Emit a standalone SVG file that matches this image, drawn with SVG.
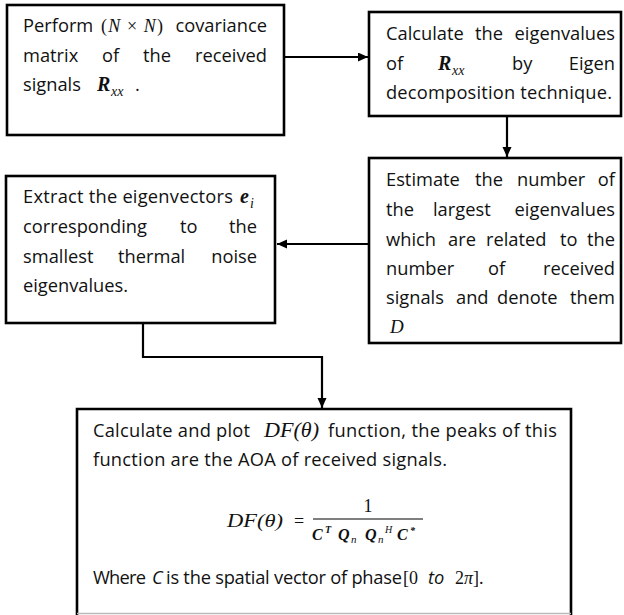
<svg xmlns="http://www.w3.org/2000/svg" width="624" height="615" viewBox="0 0 624 615">
<defs>
<style>
.box{fill:#fff;stroke:#000;stroke-width:2.6}
.t{font-family:"Open Sans","Noto Sans",sans-serif;font-size:18.3px;fill:#111}
.e{text-anchor:end}
.m{font-family:"Liberation Serif","DejaVu Serif",serif;font-size:18px;fill:#111}
.mb{font-family:"Liberation Serif","DejaVu Serif",serif;font-weight:bold;font-style:italic;fill:#111}
.mi{font-family:"Liberation Serif","DejaVu Serif",serif;font-style:italic;fill:#111}
.c{fill:none;stroke:#000;stroke-width:2.2}
</style>
<marker id="ah" markerUnits="userSpaceOnUse" markerWidth="11" markerHeight="10" refX="10" refY="4.5" orient="auto">
<path d="M0,0 L10,4.5 L0,9 z" fill="#000"/>
</marker>
</defs>
<rect width="624" height="615" fill="#fff"/>

<g id="connectors">
<line class="c" x1="285" y1="57" x2="368" y2="57" marker-end="url(#ah)"/>
<line class="c" x1="507" y1="117" x2="507" y2="157" marker-end="url(#ah)"/>
<line class="c" x1="368" y1="244" x2="277" y2="244" marker-end="url(#ah)"/>
<path class="c" d="M143,323 V357 H322 V408" marker-end="url(#ah)"/>
</g>

<g id="n1">
<rect class="box" x="7" y="5" width="277" height="130"/>
<text class="t" x="23" y="32">Perform</text>
<text class="m" x="101" y="32" font-size="16" textLength="62">(<tspan font-style="italic">N</tspan> × <tspan font-style="italic">N</tspan>)</text>
<text class="t e" x="267" y="32">covariance</text>
<text class="t" x="23" y="62">matrix</text>
<text class="t" x="102" y="62">of</text>
<text class="t" x="143" y="62">the</text>
<text class="t e" x="267" y="62">received</text>
<text class="t" x="23" y="91">signals</text>
<text class="mb" x="97" y="91" font-size="20">R</text>
<text class="mi" x="111" y="96" font-size="14">xx</text>
<text class="t" x="135" y="91">.</text>
</g>

<g id="n2">
<rect class="box" x="369" y="12" width="252" height="104"/>
<text class="t" x="386" y="40">Calculate</text>
<text class="t" x="475" y="40">the</text>
<text class="t e" x="615" y="40">eigenvalues</text>
<text class="t" x="386" y="70">of</text>
<text class="mb" x="438" y="70" font-size="20">R</text>
<text class="mi" x="452" y="75" font-size="14">xx</text>
<text class="t" x="512" y="70">by</text>
<text class="t e" x="615" y="70">Eigen</text>
<text class="t" x="386" y="99" textLength="226">decomposition technique.</text>
</g>

<g id="n3">
<rect class="box" x="369" y="158" width="252" height="185"/>
<text class="t" x="386" y="186">Estimate</text>
<text class="t" x="475" y="186">the</text>
<text class="t" x="517" y="186">number</text>
<text class="t e" x="615" y="186">of</text>
<text class="t" x="386" y="216">the</text>
<text class="t" x="433" y="216">largest</text>
<text class="t e" x="615" y="216">eigenvalues</text>
<text class="t" x="386" y="246">which</text>
<text class="t" x="448" y="246">are</text>
<text class="t" x="486" y="246">related</text>
<text class="t" x="560" y="246">to</text>
<text class="t e" x="615" y="246">the</text>
<text class="t" x="386" y="275">number</text>
<text class="t" x="488" y="275">of</text>
<text class="t e" x="615" y="275">received</text>
<text class="t" x="386" y="304">signals</text>
<text class="t" x="456" y="304">and</text>
<text class="t" x="497" y="304">denote</text>
<text class="t e" x="615" y="304">them</text>
<text class="mi" x="390" y="333" font-size="19">D</text>
</g>

<g id="n4">
<rect class="box" x="6" y="176" width="269" height="147"/>
<text class="t" x="23" y="203" textLength="210">Extract the eigenvectors</text>
<text class="mb" x="240" y="203" font-size="20">e</text>
<text class="mi" x="250" y="208" font-size="14">i</text>
<text class="t" x="23" y="233">corresponding</text>
<text class="t" x="180" y="233">to</text>
<text class="t e" x="257" y="233">the</text>
<text class="t" x="23" y="263">smallest</text>
<text class="t" x="118" y="263">thermal</text>
<text class="t e" x="257" y="263">noise</text>
<text class="t" x="23" y="292" textLength="105">eigenvalues.</text>
</g>

<g id="n5">
<path d="M77,615 V409 H571 V615" fill="#fff" stroke="#000" stroke-width="2.6"/>
<line x1="77" y1="613.5" x2="571" y2="613.5" stroke="#bbb" stroke-width="1.5"/>
<text class="t" x="93" y="437" textLength="157">Calculate and plot</text>
<text class="mi" x="264" y="437" font-size="20" textLength="55" lengthAdjust="spacingAndGlyphs">DF(θ)</text>
<text class="t" x="328" y="437" textLength="229">function, the peaks of this</text>
<text class="t" x="93" y="466" textLength="354">function are the AOA of received signals.</text>
<text class="mi" x="227" y="527" font-size="18" textLength="56" lengthAdjust="spacingAndGlyphs">DF(θ)</text>
<text class="m" x="294" y="527" font-size="20">=</text>
<text class="m" x="368" y="512" font-size="16" text-anchor="middle">1</text>
<line x1="313" y1="519" x2="423" y2="519" stroke="#000" stroke-width="1"/>
<text class="mb" x="312" y="540" font-size="16">C</text>
<text class="mb" x="325" y="533" font-size="10">T</text>
<text class="mb" x="338" y="540" font-size="16">Q</text>
<text class="mi" x="351" y="543" font-size="11">n</text>
<text class="mb" x="365" y="540" font-size="16">Q</text>
<text class="mi" x="378" y="543" font-size="11">n</text>
<text class="mi" x="385" y="533" font-size="10">H</text>
<text class="mb" x="397" y="540" font-size="16">C</text>
<text class="mb" x="410" y="534" font-size="10">*</text>
<text class="t" x="93" y="584" textLength="53">Where</text>
<text class="t" x="152" y="584" font-style="italic">C</text>
<text class="t" x="166" y="584" textLength="236">is the spatial vector of phase</text>
<text class="m" x="403" y="584" font-size="20">[0</text>
<text class="t" x="428" y="584" font-style="italic">to</text>
<text class="m" x="455" y="584" font-size="20">2<tspan font-style="italic">π</tspan>].</text>
</g>
</svg>
